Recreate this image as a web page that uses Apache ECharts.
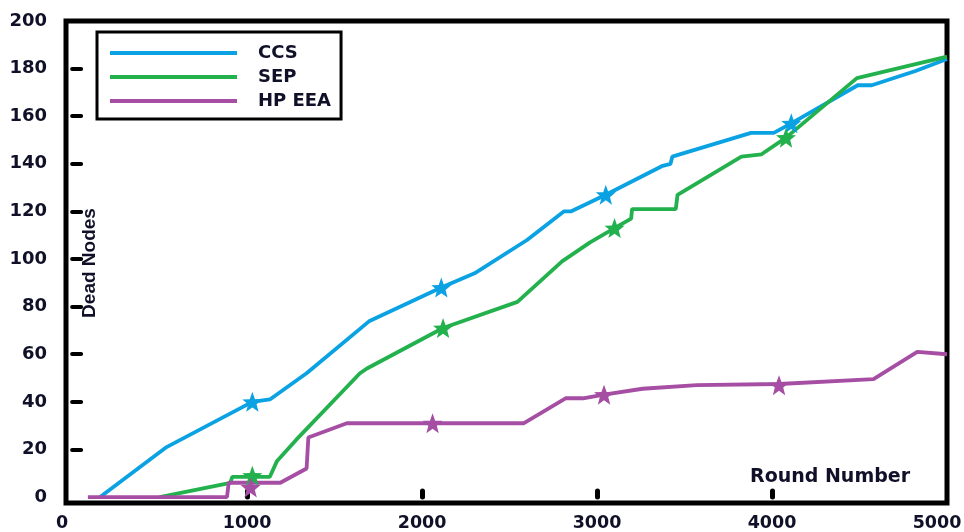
<!DOCTYPE html>
<html>
<head>
<meta charset="utf-8">
<script src="https://cdn.jsdelivr.net/npm/echarts@6/dist/echarts.min.js"></script>
<style>html,body{margin:0;padding:0;background:#fff}#c{width:964px;height:532px}</style>
</head>
<body>
<div id="c"></div>
<script>
const seriesNames = ['CCS', 'SEP', 'HP EEA'];
const xLabels = [0, 1000, 2000, 3000, 4000, 5000];
const xTicks = [1000, 2000, 3000, 4000];
const yLabels = [0, 20, 40, 60, 80, 100, 120, 140, 160, 180, 200];
const yTicks = [20, 40, 60, 80, 100, 120, 140, 160, 180];
const xTitle = 'Round Number';
const yTitle = 'Dead Nodes';

const ccs = [[160,0],[540,21],[1030,40],[1130,41],[1340,52],[1700,74],[2110,88],[2300,94],[2600,108],[2810,120],[2850,120],[3050,127],[3370,139],[3420,140],[3430,143],[3880,153],[4010,153],[4110,157],[4490,173],[4570,173],[4820,179],[5000,184]];
const sep = [[500,0],[905,6],[915,8.5],[1130,8.5],[1170,15],[1280,24],[1645,52],[1685,54],[2120,71],[2545,82],[2800,99],[2960,107],[3100,113],[3195,117],[3200,121],[3450,121],[3460,127],[3825,143],[3940,144],[4080,151],[4485,176],[5000,185]];
const hpeea = [[90,0],[885,0],[895,6],[1190,6],[1340,12],[1350,25],[1570,31],[2580,31],[2820,41.5],[2920,41.5],[3040,43],[3260,45.5],[3570,47],[4040,47.5],[4580,49.5],[4830,61],[5000,60]];

const ccsStars = [[1030,40],[2110,88],[3050,127],[4110,157]];
const sepStars = [[1030,9],[2120,71],[3100,113],[4080,151]];
const hpeeaStars = [[1020,4],[2060,31],[3040,43],[4040,47]];

const colors = ['#0aa2e3', '#23b14d', '#a54ea3'];
const STAR = 'path://M50,0 L63,35 L100,36 L71,59 L81,95 L50,74 L19,95 L29,59 L0,36 L37,35 Z';
const FONT = 'DejaVu Sans';
const TXT = '#101028';

const chart = echarts.init(document.getElementById('c'), null, {renderer: 'canvas'});

function lineSeries(name, data, color) {
  return {name, type: 'line', data, symbol: 'none', z: 3,
    lineStyle: {color, width: 3.8}, itemStyle: {color}};
}
function starSeries(name, data, color) {
  return {name: name + ' *', type: 'scatter', data, symbol: STAR, symbolSize: 20, z: 4,
    itemStyle: {color, opacity: 1}};
}
const labelFont = {fontFamily: FONT, fontWeight: 'bold', fontSize: 17.5, color: TXT};

chart.setOption({
  animation: false,
  backgroundColor: '#fff',
  grid: {left: 66, right: 17, top: 21, bottom: 29, containLabel: false, outerBoundsMode: 'none',
    show: true, borderColor: '#000', borderWidth: 5, backgroundColor: 'transparent'},
  legend: {
    data: seriesNames, orient: 'vertical', left: 97, top: 32,
    padding: [12, 10, 9, 13], itemWidth: 127, itemHeight: 4, itemGap: 6, icon: 'rect',
    borderColor: '#000', borderWidth: 3, backgroundColor: '#fff',
    textStyle: {fontFamily: FONT, fontWeight: 'bold', fontSize: 18, color: TXT, padding: [0, 0, 0, 16]}
  },
  title: {text: xTitle, left: 750, top: 468, padding: 0,
    textStyle: {fontFamily: FONT, fontWeight: 'bold', fontSize: 19, color: TXT}},
  graphic: [{
    type: 'text', x: 90, y: 263, rotation: Math.PI / 2, z: 10,
    style: {text: yTitle, align: 'center', verticalAlign: 'middle',
      font: 'bold 19px "Liberation Sans"', fill: TXT}
  }],
  xAxis: {
    type: 'value', min: -35, max: 5000,
    axisLine: {show: false},
    axisTick: {show: true, inside: true, length: 6, lineStyle: {color: '#000', width: 5, cap: 'round'}, customValues: xTicks},
    axisLabel: Object.assign({customValues: xLabels, margin: 11,
      formatter: v => (v === xLabels[0] || v === xLabels[xLabels.length - 1]) ? '{s|' + v + '}' : String(v),
      rich: {s: Object.assign({padding: [0, 20, 0, 0]}, labelFont)}}, labelFont),
    splitLine: {show: false}
  },
  yAxis: {
    type: 'value', min: -2.5, max: 200,
    axisLine: {show: false},
    axisTick: {show: true, inside: true, length: 9, lineStyle: {color: '#000', width: 4, cap: 'round'}, customValues: yTicks},
    axisLabel: {customValues: yLabels, margin: 19, fontFamily: FONT, fontWeight: 'bold', fontSize: 18, color: TXT,
      formatter: v => String(v)},
    splitLine: {show: false}
  },
  series: [
    lineSeries(seriesNames[0], ccs, colors[0]),
    lineSeries(seriesNames[1], sep, colors[1]),
    lineSeries(seriesNames[2], hpeea, colors[2]),
    starSeries(seriesNames[0], ccsStars, colors[0]),
    starSeries(seriesNames[1], sepStars, colors[1]),
    starSeries(seriesNames[2], hpeeaStars, colors[2])
  ]
});
</script>
</body>
</html>
